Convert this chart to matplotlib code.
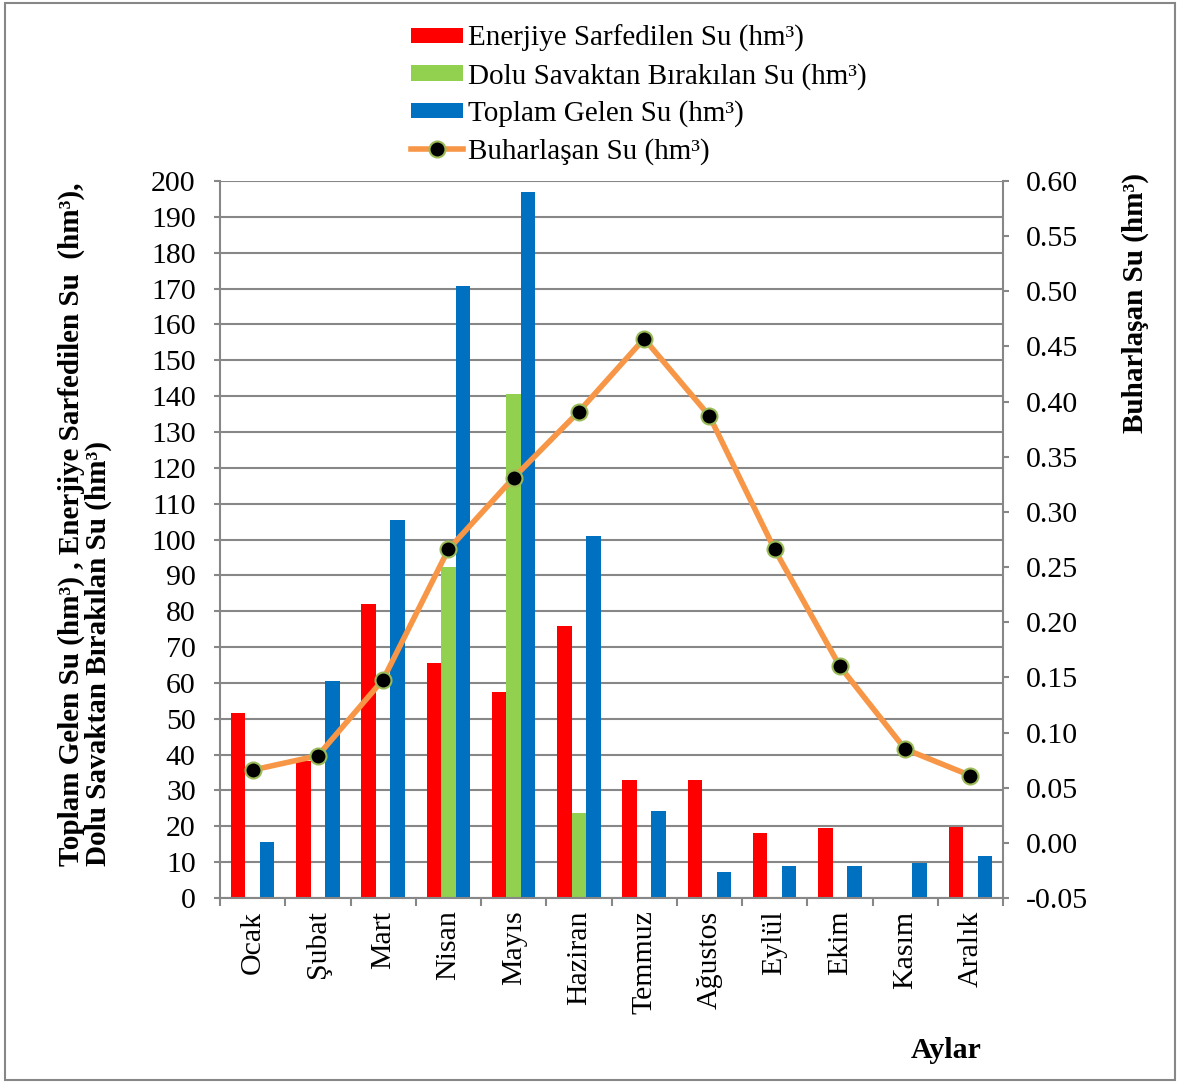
import numpy as np
import matplotlib
matplotlib.use('Agg')
import matplotlib.pyplot as plt
from matplotlib.ticker import FixedLocator, FormatStrFormatter
from matplotlib.patches import Rectangle

# values
months = ['Ocak', 'Şubat', 'Mart', 'Nisan', 'Mayıs', 'Haziran',
          'Temmuz', 'Ağustos', 'Eylül', 'Ekim', 'Kasım', 'Aralık']
energy = [51.5, 38.2, 82.0, 65.5, 57.5, 76.0, 32.8, 32.8, 18.0, 19.6, 0.0, 19.9]
spill = [0, 0, 0, 92.4, 140.5, 23.7, 0, 0, 0, 0, 0, 0]
inflow = [15.6, 60.6, 105.4, 170.8, 196.8, 100.9, 24.2, 7.2, 8.8, 8.8, 9.9, 11.8]
evap = [0.066, 0.079, 0.148, 0.266, 0.331, 0.391, 0.457, 0.387, 0.266, 0.160, 0.085, 0.061]

plt.rcParams['font.family'] = ['Liberation Serif', 'DejaVu Serif']
fs = 21.5
grey = '#878787'

fig = plt.figure(figsize=(11.79, 10.83), dpi=100)
ax = fig.add_axes([220/1179, 1-898/1083, (1003-220)/1179, (898-181)/1083])

x = np.arange(len(months))
w = 0.222
ax.bar(x - w, energy, w, color='#FF0000', label='Enerjiye Sarfedilen Su (hm³)')
ax.bar(x, spill, w, color='#92D050', label='Dolu Savaktan Bırakılan Su (hm³)')
ax.bar(x + w, inflow, w, color='#0070C0', label='Toplam Gelen Su (hm³)')

ax.set_xlim(-0.5, len(months) - 0.5)
ax.set_ylim(0, 200)
ax.set_yticks(np.arange(0, 201, 10))
ax.set_axisbelow(True)
ax.yaxis.grid(True, color=grey, linewidth=1.5)
ax.set_xticks(x)
ax.set_xticklabels(months, rotation=90, fontsize=fs)
ax.xaxis.set_minor_locator(FixedLocator(np.arange(-0.5, len(months), 1)))
ax.tick_params(axis='x', which='major', length=0, pad=9)
ax.tick_params(axis='x', which='minor', length=6, width=1.5, color=grey)
ax.tick_params(axis='y', labelsize=fs, length=4.5, width=1.5, color=grey, pad=13)
ax.spines['top'].set_visible(False)
ax.spines['right'].set_visible(False)
for s in ['left', 'bottom']:
    ax.spines[s].set_color(grey)
    ax.spines[s].set_linewidth(1.5)

ax2 = ax.twinx()
ax2.plot(x, evap, color='#F79646', linewidth=4, marker='o', markersize=11.5,
         markerfacecolor='black', markeredgecolor='#9BBB59', markeredgewidth=1.5,
         label='Buharlaşan Su (hm³)')
ax2.set_ylim(-0.05, 0.60)
ax2.set_yticks(np.arange(-0.05, 0.601, 0.05))
ax2.yaxis.set_major_formatter(FormatStrFormatter('%.2f'))
ax2.tick_params(axis='y', labelsize=fs, length=4.5, width=1.5, color=grey, pad=12)
for s in ['top', 'left', 'bottom']:
    ax2.spines[s].set_visible(False)
ax2.spines['right'].set_color(grey)
ax2.spines['right'].set_linewidth(1.5)

h1, l1 = ax.get_legend_handles_labels()
h2, l2 = ax2.get_legend_handles_labels()
fig.legend(h1 + h2, l1 + l2, loc='upper left', bbox_to_anchor=(411/1179, 1-25/1083),
           frameon=False, fontsize=21, handlelength=1.78, handleheight=0.45,
           handletextpad=0.17, labelspacing=0.36, borderpad=0, borderaxespad=0)

fig.text(0.072, 1-866/1083,
         'Toplam Gelen Su (hm³) , Enerjiye Sarfedilen Su  (hm³),\nDolu Savaktan Bırakılan Su (hm³)',
         rotation=90, ha='center', va='bottom', multialignment='left',
         fontsize=21, fontweight='bold', linespacing=1.0)
fig.text(1135/1179, 1-173/1083, 'Buharlaşan Su (hm³)', rotation=90,
         ha='center', va='top', fontsize=21, fontweight='bold')
fig.text(946/1179, 1-1050/1083, 'Aylar', ha='center', va='center',
         fontsize=fs, fontweight='bold')

fig.patches.append(Rectangle((5/1179, 3/1083), 1170/1179, 1077/1083,
                             transform=fig.transFigure, fill=False,
                             edgecolor=grey, linewidth=1.5))

fig.savefig('out.png', dpi=100)
